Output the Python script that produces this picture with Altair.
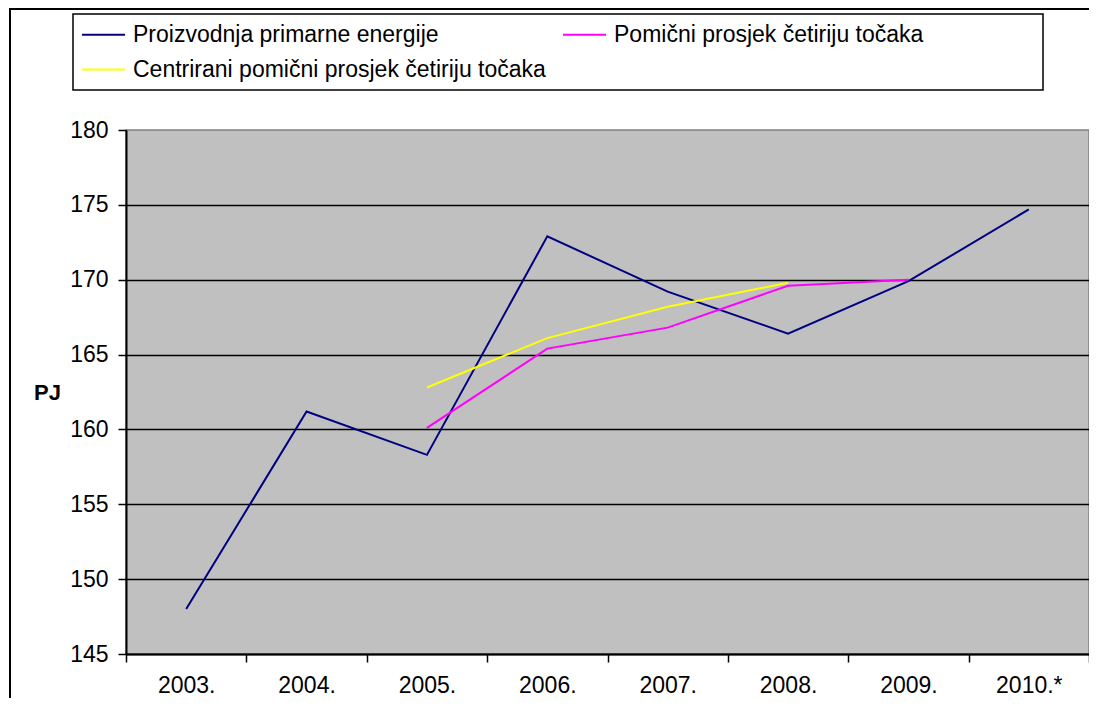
import altair as alt
import pandas as pd

years = ["2003.", "2004.", "2005.", "2006.", "2007.", "2008.", "2009.", "2010.*"]
production = [148.0, 161.2, 158.3, 172.9, 169.2, 166.4, 169.9, 174.7]
ma_years = ["2005.", "2006.", "2007.", "2008.", "2009."]
ma_values = [160.1, 165.4, 166.8, 169.6, 170.0]
cma_years = ["2005.", "2006.", "2007.", "2008."]
cma_values = [162.8, 166.1, 168.2, 169.8]

series_names = [
    "Proizvodnja primarne energije",
    "Pomični prosjek četiriju točaka",
    "Centrirani pomični prosjek četiriju točaka",
]
series_colors = ["#000080", "#FF00FF", "#FFFF00"]
y_ticks = [145, 150, 155, 160, 165, 170, 175, 180]

rows = []
for yr, v in zip(years, production):
    rows.append({"year": yr, "value": v, "series": series_names[0]})
for yr, v in zip(ma_years, ma_values):
    rows.append({"year": yr, "value": v, "series": series_names[1]})
for yr, v in zip(cma_years, cma_values):
    rows.append({"year": yr, "value": v, "series": series_names[2]})
df = pd.DataFrame(rows)

FONT = "Liberation Sans"
FS = 23

lines = alt.Chart(df).mark_line(strokeWidth=2).encode(
    x=alt.X(
        "year:O",
        sort=years,
        scale=alt.Scale(type="band", domain=years, paddingInner=0, paddingOuter=0),
        axis=alt.Axis(
            title=None,
            labelAngle=0,
            tickBand="extent",
            tickSize=8,
            tickColor="black",
            tickWidth=1.5,
            domainColor="black",
            domainWidth=2,
            labelFontSize=FS,
            labelFont=FONT,
            labelColor="black",
            labelPadding=12,
            grid=False,
        ),
    ),
    y=alt.Y(
        "value:Q",
        scale=alt.Scale(domain=[145, 180], nice=False, zero=False),
        axis=alt.Axis(
            title="PJ",
            values=y_ticks,
            titleAngle=0,
            titleAlign="center",
            titleBaseline="middle",
            titleX=-79,
            titleY=262,
            titleFontSize=22,
            titleFont=FONT,
            titleFontWeight="bold",
            titleColor="black",
            tickSize=8,
            tickColor="black",
            tickWidth=1.5,
            domainColor="black",
            domainWidth=2,
            labelFontSize=FS,
            labelFont=FONT,
            labelColor="black",
            labelPadding=10,
            grid=True,
            gridColor="black",
            gridWidth=1.5,
            gridOpacity={"condition": {"test": "datum.value >= 180", "value": 0}, "value": 1},
        ),
    ),
    color=alt.Color(
        "series:N",
        scale=alt.Scale(domain=series_names, range=series_colors),
        sort=series_names,
        legend=alt.Legend(
            title=None,
            orient="none",
            direction="horizontal",
            legendX=-45,
            legendY=-118,
            columns=2,
            columnPadding=13,
            rowPadding=0,
            padding=0,
            symbolType="stroke",
            symbolSize=1849,
            symbolStrokeWidth=2,
            labelFontSize=FS,
            labelFont=FONT,
            labelColor="black",
            labelOffset=7,
            labelLimit=0,
        ),
    ),
)

one = pd.DataFrame({"k": [0]})
frame_left = alt.Chart(one).mark_rule(color="black", strokeWidth=2).encode(
    x=alt.value(-116), y=alt.value(-121), y2=alt.value(700)
)
frame_top = alt.Chart(one).mark_rule(color="black", strokeWidth=2).encode(
    x=alt.value(-117), x2=alt.value(1100), y=alt.value(-121)
)
legend_frame = alt.Chart(one).mark_rect(filled=False, stroke="black", strokeWidth=1.5).encode(
    x=alt.value(-53), x2=alt.value(917), y=alt.value(-116), y2=alt.value(-40)
)

chart = alt.layer(frame_left, frame_top, legend_frame, lines).properties(
    width=963,
    height=524,
    padding={"left": 118, "top": 122, "right": 0, "bottom": 44},
    autosize=alt.AutoSizeParams(type="none"),
    background="white",
).configure_view(
    fill="#C0C0C0", stroke="#808080", strokeWidth=1.5
)

chart.save("out.html", embed_options={"renderer": "svg", "actions": False})
